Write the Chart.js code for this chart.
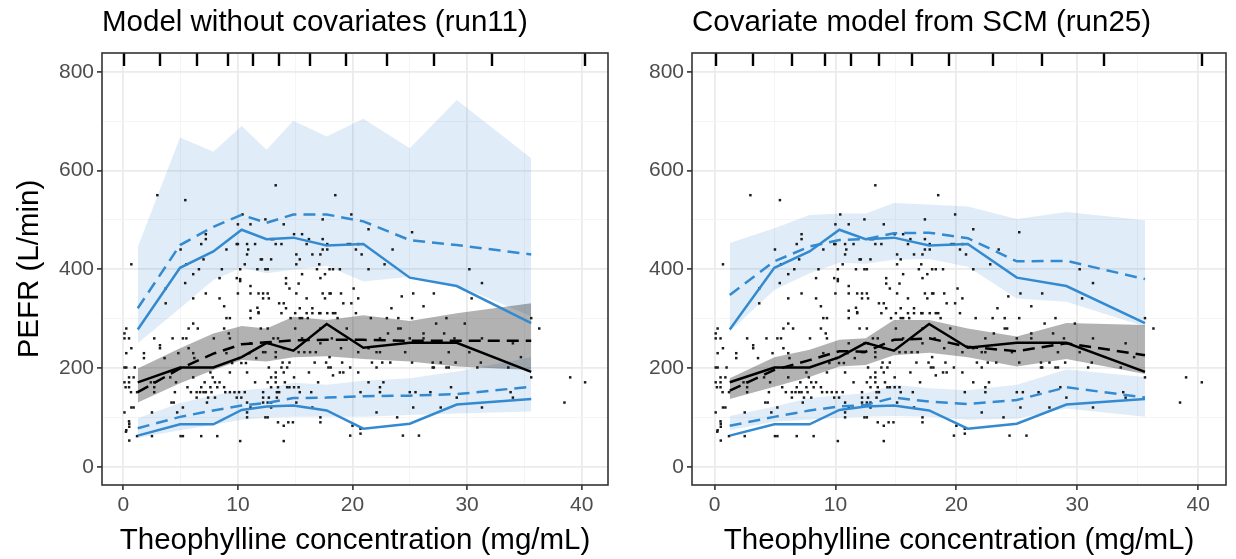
<!DOCTYPE html>
<html>
<head>
<meta charset="utf-8">
<script src="https://cdn.jsdelivr.net/npm/chart.js@4.4.1/dist/chart.umd.min.js"></script>
<style>
  html, body { margin: 0; padding: 0; background: #fff; }
  #wrap { position: relative; width: 1236px; height: 559px; }
  canvas { position: absolute; top: 0; }
  #run11 { left: 0; }
  #run25 { left: 615px; }
</style>
</head>
<body>
<div id="wrap">
  <canvas id="run11" width="615" height="559"></canvas>
  <canvas id="run25" width="621" height="559"></canvas>
</div>
<script>
// axis ticks
const xMajor = [0, 10, 20, 30, 40];
const xMinor = [5, 15, 25, 35];
const yMajor = [0, 200, 400, 600, 800];
const yMinor = [100, 300, 500, 700];

// bins (concentration)
const binEdges = [0.09, 3.2, 6.4, 9.1, 11.3, 13.6, 16.3, 19.4, 23.0, 27.1, 32.2, 40.3];
const binMid = [1.26, 4.95, 7.86, 10.33, 12.5, 14.84, 17.75, 20.95, 25.0, 29.1, 35.6];

// observed percentiles (same in both panels)
const obsP05 = [63, 86, 86, 115, 122, 124, 114, 77, 87, 126, 137];
const obsP50 = [171, 201, 201, 222, 251, 235, 289, 241, 251, 251, 192];
const obsP95 = [278, 403, 436, 480, 461, 464, 448, 451, 383, 366, 291];

// run11 simulated percentiles: lower / median / upper of PI
const run11Lo05 = [58, 74, 85, 95, 99, 101, 101, 101, 105, 108, 112];
const run11Md05 = [78, 101, 114, 124, 129, 139, 140, 143, 144, 147, 162];
const run11Hi05 = [98, 129, 145, 155, 159, 170, 166, 174, 179, 193, 222];
const run11Lo50 = [130, 169, 196, 216, 213, 222, 224, 218, 213, 203, 196];
const run11Md50 = [151, 199, 229, 248, 252, 256, 257, 257, 255, 255, 255];
const run11Hi50 = [199, 240, 270, 285, 280, 304, 297, 307, 295, 311, 331];
const run11Lo95 = [250, 321, 378, 403, 392, 399, 407, 375, 385, 368, 305];
const run11Md95 = [321, 449, 486, 510, 494, 511, 511, 497, 459, 449, 430];
const run11Hi95 = [445, 667, 638, 690, 642, 701, 669, 705, 645, 743, 625];

// run25 simulated percentiles
const run25Lo05 = [74, 91, 95, 99, 101, 103, 101, 95, 97, 118, 101];
const run25Md05 = [83, 101, 114, 122, 125, 140, 132, 127, 135, 161, 140];
const run25Hi05 = [103, 122, 139, 145, 149, 166, 159, 155, 166, 197, 182];
const run25Lo50 = [137, 162, 182, 203, 206, 226, 231, 222, 203, 218, 188];
const run25Md50 = [154, 196, 216, 234, 233, 257, 260, 243, 234, 250, 226];
const run25Hi50 = [179, 222, 237, 257, 260, 297, 297, 280, 264, 291, 287];
const run25Lo95 = [274, 358, 392, 413, 411, 419, 421, 405, 341, 334, 284];
const run25Md95 = [348, 416, 446, 459, 461, 473, 474, 463, 416, 417, 380];
const run25Hi95 = [453, 483, 510, 513, 513, 534, 531, 527, 502, 516, 499];

// observed data: concentration and PEFR
const obsConc = [
  2.97, 5.41, 10.4, 10.0, 11.1, 7.2, 7.2, 6.8, 9.9, 10.0, 10.8, 11.5, 5.0, 9.0, 10.9, 10.8, 7.0, 12.0, 0.7, 5.5,
  10.6, 6.6, 8.6, 10.2, 11.7, 6.1, 8.4, 9.9, 10.2, 10.2, 5.4, 11.1, 3.7, 7.2, 10.0, 11.1, 11.8, 6.1, 8.4, 3.7,
  8.8, 11.7, 11.1, 11.8,
  13.3, 18.5, 19.9, 12.4, 17.4, 14.0, 21.4, 25.2, 14.9, 15.6, 12.9, 13.1, 16.2, 17.4, 13.3, 13.8, 16.0, 17.8, 19.6, 19.8,
  20.5, 17.4, 17.8, 20.3, 23.5, 15.1, 16.5, 17.2, 20.8, 12.1, 12.9, 15.4, 15.1, 17.1, 22.8, 12.4, 12.6, 16.9, 18.0, 18.3,
  18.9, 21.4, 15.6, 17.6, 14.2, 17.2, 14.2, 15.3, 14.5, 20.1, 12.2, 12.6, 15.1, 17.4, 18.0, 18.1, 19.0, 25.3, 12.2, 12.7,
  16.0, 17.6, 20.5, 24.3, 13.6, 14.0, 19.2, 19.9, 14.2, 15.4, 16.5, 23.4, 13.8, 17.1, 17.2, 17.8, 18.5, 20.3,
  30.2, 31.3, 27.1, 30.4, 26.2,
  9.0, 9.3, 11.1, 11.8, 6.1, 0.26, 5.7, 6.5, 8.8, 12.0, 0.1, 9.2, 0.5, 2.7, 4.3, 5.2, 5.5, 7.9, 9.3, 11.1,
  0.7, 3.2, 3.2, 5.7, 0.26, 1.8, 4.8, 6.1, 9.0, 11.0, 1.8, 3.6, 6.2, 10.1, 11.6, 9.5, 10.3, 10.7, 0.1, 0.26,
  1.0, 7.6, 9.3, 10.8, 0.5, 0.9, 4.1, 6.1, 7.8, 0.1, 0.5, 2.4, 2.7, 4.6, 7.1, 8.0, 8.4, 11.5, 0.2, 0.5,
  2.7, 5.6, 6.8, 7.6, 8.2, 8.8, 1.2, 2.7, 4.5, 5.9, 6.4, 6.7, 7.0, 7.2, 7.7, 8.9, 9.3, 9.7, 10.1, 10.6,
  6.4, 7.4, 8.0, 9.9, 10.3, 4.2, 4.4, 7.3, 10.8, 5.2, 0.7, 0.9, 11.1, 10.8, 10.8, 0.1, 2.5, 4.7, 0.5, 0.26,
  1.2, 2.5, 5.0, 5.2, 6.8, 8.2, 10.2, 0.1, 0.52, 0.52, 0.52, 0.23, 0.67,
  14.6, 15.0, 15.4, 15.6, 16.0, 16.1, 16.5, 18.3, 18.7, 21.6, 23.0, 24.0, 25.2, 12.6, 15.0, 17.2, 19.5, 24.0, 24.2, 23.1,
  13.1, 13.5, 15.6, 18.2, 22.4, 25.0, 12.4, 12.7, 17.2, 19.0, 14.0, 21.4, 12.2, 12.4, 13.3, 15.3, 15.8, 16.3, 16.8, 20.5,
  22.1, 22.4, 24.6, 13.3, 18.0, 13.9, 14.5, 16.7, 17.7, 19.1, 21.7, 22.6, 23.3, 25.2, 12.7, 13.8, 14.3, 17.9, 18.1, 19.8,
  22.1, 13.3, 14.0, 16.2, 18.3, 18.9, 19.2, 20.5, 12.9, 13.3, 14.9, 14.1, 13.3, 12.6, 17.0, 21.4, 22.7, 12.9, 13.5, 14.3,
  14.5, 14.9, 15.3, 22.4, 16.4, 12.2, 13.4, 13.6, 15.4, 20.7, 22.4, 25.0, 25.5, 12.2, 12.7, 13.4, 12.2, 12.6, 12.9, 15.1,
  16.5, 12.9, 25.3, 12.4, 12.6, 17.2, 22.1, 23.9, 13.5, 14.4, 14.8, 17.2, 14.0, 20.0, 20.7, 20.7, 19.8, 24.4, 25.8, 14.0,
  28.2, 27.3, 29.8, 35.6, 36.3, 28.0, 26.2, 26.2, 28.9, 31.3, 34.0, 28.4, 30.2, 34.7, 27.0, 27.7, 29.0, 31.2, 27.0, 27.1,
  28.2, 28.4, 30.9, 33.6, 35.6, 39.0, 40.3, 28.6, 26.8, 33.8, 29.1, 34.0, 38.5, 27.7, 31.3
];
const obsPefr = [
  550, 540, 511, 491, 491, 471, 461, 451, 451, 451, 451, 451, 440, 440, 440, 430, 420, 420, 410, 410,
  410, 400, 400, 400, 400, 390, 382, 382, 380, 376, 372, 366, 361, 351, 351, 351, 351, 341, 341, 331,
  325, 322, 316, 313,
  570, 550, 511, 501, 501, 491, 481, 475, 471, 471, 461, 461, 461, 461, 451, 451, 451, 451, 451, 451,
  451, 440, 440, 440, 440, 430, 430, 430, 430, 420, 420, 420, 410, 410, 410, 400, 400, 400, 400, 400,
  400, 400, 390, 390, 382, 382, 371, 371, 361, 361, 351, 351, 351, 351, 351, 351, 351, 351, 341, 341,
  341, 341, 341, 345, 331, 331, 331, 331, 321, 321, 321, 321, 311, 311, 311, 311, 311, 311,
  400, 372, 351, 341, 325,
  301, 301, 301, 311, 290, 280, 280, 280, 280, 280, 270, 270, 260, 260, 260, 260, 260, 260, 260, 250,
  240, 246, 240, 240, 230, 230, 230, 230, 230, 230, 220, 220, 220, 220, 220, 210, 210, 210, 201, 201,
  201, 191, 191, 191, 181, 181, 181, 181, 181, 171, 171, 171, 171, 171, 171, 171, 171, 171, 161, 161,
  161, 161, 161, 161, 161, 161, 151, 151, 151, 151, 151, 151, 151, 151, 151, 151, 151, 151, 151, 151,
  140, 140, 140, 140, 140, 130, 130, 130, 130, 120, 120, 120, 120, 110, 100, 110, 110, 110, 92, 74,
  62, 62, 62, 62, 62, 62, 52, 260, 87, 81, 53, 71, 151,
  301, 311, 301, 301, 311, 301, 311, 311, 301, 301, 301, 301, 301, 280, 280, 280, 280, 280, 280, 270,
  260, 260, 260, 260, 260, 260, 250, 250, 250, 240, 240, 240, 232, 232, 232, 232, 232, 232, 232, 232,
  232, 232, 232, 222, 222, 211, 211, 211, 211, 211, 211, 211, 211, 211, 201, 201, 201, 201, 201, 201,
  201, 191, 191, 191, 185, 191, 191, 191, 181, 181, 181, 171, 171, 171, 171, 171, 171, 161, 161, 161,
  161, 161, 161, 161, 151, 151, 151, 151, 151, 151, 151, 151, 151, 140, 140, 140, 130, 130, 130, 130,
  120, 120, 120, 100, 100, 100, 110, 100, 90, 90, 90, 90, 83, 83, 77, 67, 63, 63, 63, 52,
  301, 290, 290, 301, 280, 270, 270, 260, 260, 260, 250, 232, 232, 222, 211, 211, 211, 211, 201, 201,
  201, 201, 201, 201, 181, 181, 171, 161, 151, 151, 140, 140, 130, 120, 120
];

const blue = "#338ad0";
const blueFill = "rgba(49, 135, 205, 0.15)";
const greyFill = "rgba(0, 0, 0, 0.3)";
const fontFamily = "'Liberation Sans', Arial, Helvetica, sans-serif";

Chart.defaults.font.family = fontFamily;

function xy(values) {
  return binMid.map((x, i) => ({ x: x, y: values[i] }));
}

function band(lo, hi, color) {
  return [
    { data: xy(lo), showLine: true, borderWidth: 0, pointRadius: 0, fill: false, order: 30 },
    { data: xy(hi), showLine: true, borderWidth: 0, pointRadius: 0, fill: "-1", backgroundColor: color, order: 30 },
  ];
}

function line(values, color, dashed) {
  return {
    data: xy(values),
    showLine: true,
    borderColor: color,
    borderWidth: 2.5,
    borderDash: dashed ? [12, 7] : [],
    pointRadius: 0,
    fill: false,
    order: dashed ? 10 : 5,
  };
}

// panel border and rug of bin edges
const panelDecor = {
  id: "panelDecor",
  afterDatasetsDraw(chart) {
    const { ctx, chartArea, scales } = chart;
    ctx.save();
    ctx.strokeStyle = "#000";
    ctx.lineWidth = 2.4;
    binEdges.forEach((v) => {
      const px = Math.round(scales.x.getPixelForValue(v));
      ctx.beginPath();
      ctx.moveTo(px, chartArea.top);
      ctx.lineTo(px, chartArea.top + 13);
      ctx.stroke();
    });
    ctx.strokeStyle = "#333333";
    ctx.lineWidth = 1.6;
    ctx.strokeRect(chartArea.left, chartArea.top, chartArea.right - chartArea.left, chartArea.bottom - chartArea.top);
    ctx.restore();
  },
};

function makePanel(id, title, sim, opts) {
  const points = obsConc.map((x, i) => ({ x: x, y: obsPefr[i] }));

  const datasets = [
    ...band(sim.lo50, sim.hi50, greyFill),
    ...band(sim.lo05, sim.hi05, blueFill),
    ...band(sim.lo95, sim.hi95, blueFill),
    {
      data: points,
      pointStyle: "rect",
      pointRadius: 1.75,
      pointBackgroundColor: "#1a1a1a",
      pointBorderWidth: 0,
      order: 20,
    },
    line(sim.md05, blue, true),
    line(sim.md50, "#000", true),
    line(sim.md95, blue, true),
    line(obsP05, blue, false),
    line(obsP50, "#000", false),
    line(obsP95, blue, false),
  ];

  const isMajorX = (v) => xMajor.includes(v);
  const isMajorY = (v) => yMajor.includes(v);

  new Chart(document.getElementById(id), {
    type: "scatter",
    data: { datasets },
    options: {
      responsive: false,
      animation: false,
      events: [],
      layout: { padding: { left: 0, right: opts.padRight, top: 0, bottom: 0 } },
      plugins: {
        legend: { display: false },
        tooltip: { enabled: false },
        title: {
          display: true,
          text: title,
          align: "start",
          fullSize: false,
          color: "#000",
          font: { size: 29.5, weight: "normal" },
          padding: { top: 5, bottom: 12.6 },
        },
      },
      scales: {
        x: {
          type: "linear",
          min: -1.86,
          max: 42.3,
          afterBuildTicks: (s) => {
            s.ticks = [...xMajor, ...xMinor].sort((a, b) => a - b).map((v) => ({ value: v }));
          },
          afterFit: (s) => {
            s.height = 74;
          },
          border: { display: false },
          grid: {
            color: (c) => (isMajorX(c.tick.value) ? "#ebebeb" : "#f4f4f4"),
            lineWidth: (c) => (isMajorX(c.tick.value) ? 1.8 : 0.9),
            tickColor: (c) => (isMajorX(c.tick.value) ? "#333333" : "rgba(0,0,0,0)"),
            tickWidth: 1.6,
            tickLength: 5,
          },
          ticks: {
            autoSkip: false,
            maxRotation: 0,
            padding: 3,
            color: "#4d4d4d",
            font: { size: 21 },
            callback: (v) => (isMajorX(v) ? v : ""),
          },
          title: {
            display: true,
            text: "Theophylline concentration (mg/mL)",
            color: "#000",
            font: { size: 29.5 },
            padding: { top: 0, bottom: 0 },
          },
        },
        y: {
          type: "linear",
          min: -37,
          max: 838,
          afterBuildTicks: (s) => {
            s.ticks = [...yMajor, ...yMinor].sort((a, b) => a - b).map((v) => ({ value: v }));
          },
          afterFit: (s) => {
            s.width = opts.yWidth;
          },
          border: { display: false },
          grid: {
            color: (c) => (isMajorY(c.tick.value) ? "#ebebeb" : "#f4f4f4"),
            lineWidth: (c) => (isMajorY(c.tick.value) ? 1.8 : 0.9),
            tickColor: (c) => (isMajorY(c.tick.value) ? "#333333" : "rgba(0,0,0,0)"),
            tickWidth: 1.6,
            tickLength: 5,
          },
          ticks: {
            autoSkip: false,
            padding: 3,
            color: "#4d4d4d",
            font: { size: 21 },
            callback: (v) => (isMajorY(v) ? v : ""),
          },
          title: {
            display: opts.yTitle,
            text: "PEFR (L/min)",
            color: "#000",
            font: { size: 29.5 },
            padding: { top: 12, bottom: 0 },
          },
        },
      },
    },
    plugins: [panelDecor],
  });
}

makePanel(
  "run11",
  "Model without covariates (run11)",
  {
    lo05: run11Lo05, md05: run11Md05, hi05: run11Hi05,
    lo50: run11Lo50, md50: run11Md50, hi50: run11Hi50,
    lo95: run11Lo95, md95: run11Md95, hi95: run11Hi95,
  },
  { padRight: 7, yWidth: 102, yTitle: true }
);

makePanel(
  "run25",
  "Covariate model from SCM (run25)",
  {
    lo05: run25Lo05, md05: run25Md05, hi05: run25Hi05,
    lo50: run25Lo50, md50: run25Md50, hi50: run25Hi50,
    lo95: run25Lo95, md95: run25Md95, hi95: run25Hi95,
  },
  { padRight: 10, yWidth: 77, yTitle: false }
);
</script>
</body>
</html>
